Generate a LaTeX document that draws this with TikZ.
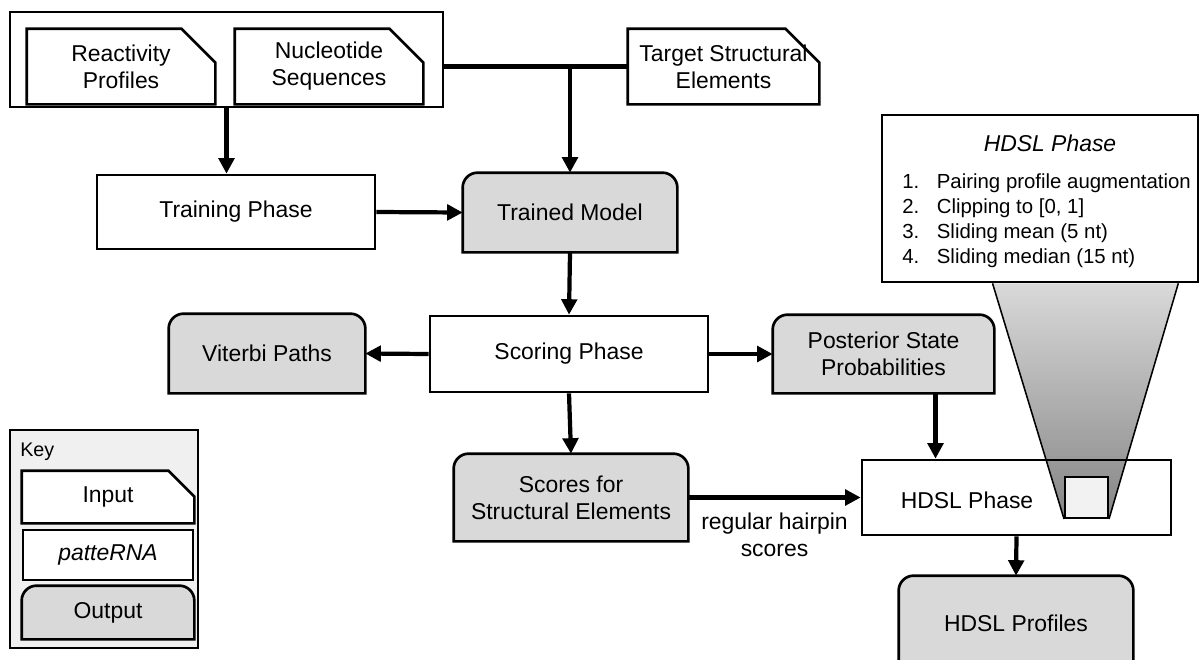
\documentclass[tikz,border=0pt]{standalone}
\usepackage{fontspec}
\setmainfont{Liberation Sans}
\usepackage{tikz}
\usetikzlibrary{arrows.meta}
\usetikzlibrary{positioning}
\usetikzlibrary{calc}
\usetikzlibrary{backgrounds}

\definecolor{outGray}{HTML}{D9D9D9}
\definecolor{keyGray}{HTML}{F0F0F0}
\definecolor{lensGray}{HTML}{F2F2F2}
\definecolor{funGray}{HTML}{858585}
\newcommand{\pxu}{0.025cm}
\newcommand{\mainF}{\fontsize{16.3}{19.2}\selectfont}
\newcommand{\listF}{\fontsize{14.5}{17.7}\selectfont}
\newcommand{\keyF}{\fontsize{14}{16}\selectfont}

\begin{document}
\begin{tikzpicture}[
        x=\pxu, y=-\pxu,
        defaultS/.style={
            line width=1.9pt,
            align=center,
            inner sep=0pt,
            font=\mainF
        },
        inS/.style={
            defaultS,
            rectangle
        },
        procS/.style={
            defaultS,
            rectangle,
            draw
        },
        outS/.style={
            defaultS,
            rectangle
        },
        inBgS/.style={
            line width=1.9pt,
            draw=black,
            fill=white
        },
        outBgS/.style={
            line width=1.9pt,
            draw=black,
            fill=outGray
        },
        groupS/.style={
            rectangle,
            draw,
            line width=2.1pt,
            inner sep=0pt
        },
        arrowS/.style={
            line width=3pt,
            -{Triangle[length=11pt,width=11pt]}
        },
        lineS/.style={line width=3pt},
        funS/.style={line width=1.1pt},
    ]
    \useasboundingbox (0,0) rectangle (1200,659);

    % inputs
    \node[groupS, minimum width=433*\pxu, minimum height=95*\pxu] (inGroup) at (226.5,59.5) {};
    \node[inS, minimum width=186*\pxu, minimum height=73*\pxu] (react) at (121,66.5) {Reactivity\\Profiles};
    \node[inS, minimum width=186*\pxu, minimum height=73*\pxu] (nucl) at (329,66.5) {Nucleotide\\Sequences};
    \node[inS, minimum width=189*\pxu, minimum height=73*\pxu] (target) at (723.5,66.5) {Target Structural\\Elements};

    % phases and outputs
    \node[procS, minimum width=278*\pxu, minimum height=74*\pxu] (train) at (236,212) {Training Phase};
    \node[outS, minimum width=212*\pxu, minimum height=77*\pxu] (model) at (570,212.5) {Trained Model};
    \node[procS, minimum width=278*\pxu, minimum height=76*\pxu] (scoring) at (569,354) {Scoring Phase};
    \node[outS, minimum width=194*\pxu, minimum height=77*\pxu] (viterbi) at (267,353.5) {Viterbi Paths};
    \node[outS, minimum width=219*\pxu, minimum height=76*\pxu] (post) at (883.5,354) {Posterior State\\Probabilities};
    \node[outS, minimum width=232*\pxu, minimum height=85*\pxu] (scores) at (571,497.5) {Scores for\\Structural Elements};
    \node[procS, minimum width=309*\pxu, minimum height=75*\pxu] (hdsl) at (1016.5,497.5) {};
    \node[defaultS] (hdslT) at (967,500) {HDSL Phase};
    \node[outS, minimum width=232*\pxu, minimum height=92*\pxu] (prof) at (1016,623) {HDSL Profiles};

    % zoomed HDSL box
    \node[groupS, line width=1.9pt, fill=white, minimum width=316*\pxu, minimum height=167*\pxu] (zoom) at (1040,198.5) {};
    \node[defaultS, font=\mainF\itshape] (zoomT) at (1050,143) {HDSL Phase};
    \node[anchor=north west, inner sep=0pt, font=\listF] (zoomL) at (902,171)
        {\begin{tabular}{@{}p{24.6pt}@{}l@{}}
         1. & Pairing profile augmentation\\
         2. & Clipping to [0, 1]\\
         3. & Sliding mean (5 nt)\\
         4. & Sliding median (15 nt)
         \end{tabular}};
    \node[rectangle, draw, line width=1.4pt, fill=lensGray, minimum width=43*\pxu, minimum height=41*\pxu] (lens) at (1086.5,497.5) {};

    % key
    \node[anchor=west, inner sep=0pt, font=\keyF] (keyT) at (20,452) {Key};
    \node[inS, minimum width=170*\pxu, minimum height=50*\pxu] (keyIn) at (108,497) {Input};
    \node[procS, fill=white, minimum width=170*\pxu, minimum height=50*\pxu] (keyProc) at (108,555) {\itshape patteRNA};
    \node[outS, minimum width=170*\pxu, minimum height=51*\pxu] (keyOut) at (108,612.5) {Output};

    % connectors
    \draw[arrowS] (inGroup.south) -- (inGroup.south |- train.north);
    \draw[lineS] (inGroup.east |- target.west) -- (target.west);
    \coordinate (tj) at (model.north |- target.west);
    \draw[arrowS] (tj) -- (model.north);
    \draw[arrowS] (train.east) -- (model.west);
    \draw[arrowS] (model.south) -- (scoring.north);
    \draw[arrowS] (scoring.west) -- (viterbi.east);
    \draw[arrowS] (scoring.east) -- (post.west);
    \draw[arrowS] (scoring.south) -- (scores.north);
    \draw[arrowS] (scores.east) -- node[midway, below=10pt, defaultS] (hairT) {regular hairpin\\scores} (hdsl.west);
    \draw[arrowS] ([xshift=52*\pxu]post.south) -- ([xshift=52*\pxu]post.south |- hdsl.north);
    \draw[arrowS] (hdsl.south) -- (prof.north);

    \begin{scope}[on background layer]
        \clip (0,0) rectangle (1200,659);
        \node[groupS, line width=1.9pt, fill=keyGray, minimum width=188*\pxu, minimum height=218*\pxu] (key) at (104,539) {};
        % funnel
        \coordinate (fl) at ($(zoom.south west)!0.351!(zoom.south east)$);
        \coordinate (fr) at ($(zoom.south west)!0.934!(zoom.south east)$);
        \shade[top color=outGray, bottom color=funGray] (fl) -- (lens.south west) -- (lens.south east) -- (fr) -- cycle;
        \draw[funS] (fl) -- (lens.south west);
        \draw[funS] (fr) -- (lens.south east);
        % input shapes, cut corner (in px)
        \foreach \n/\cut in {react/34,nucl/34,target/34,keyIn/26}
            \draw[inBgS] (\n.south west) -- (\n.north west) -- ($(\n.north east)+(-\cut,0)$) -- ($(\n.north east)+(0,\cut)$) -- (\n.south east) -- cycle;
        % output shapes
        \foreach \n in {model,viterbi,post,scores,prof,keyOut}
            \draw[outBgS] (\n.south west) [rounded corners=10.6pt] -- (\n.north west) -- (\n.north east) [sharp corners] -- (\n.south east) -- cycle;
    \end{scope}
\end{tikzpicture}
\end{document}
